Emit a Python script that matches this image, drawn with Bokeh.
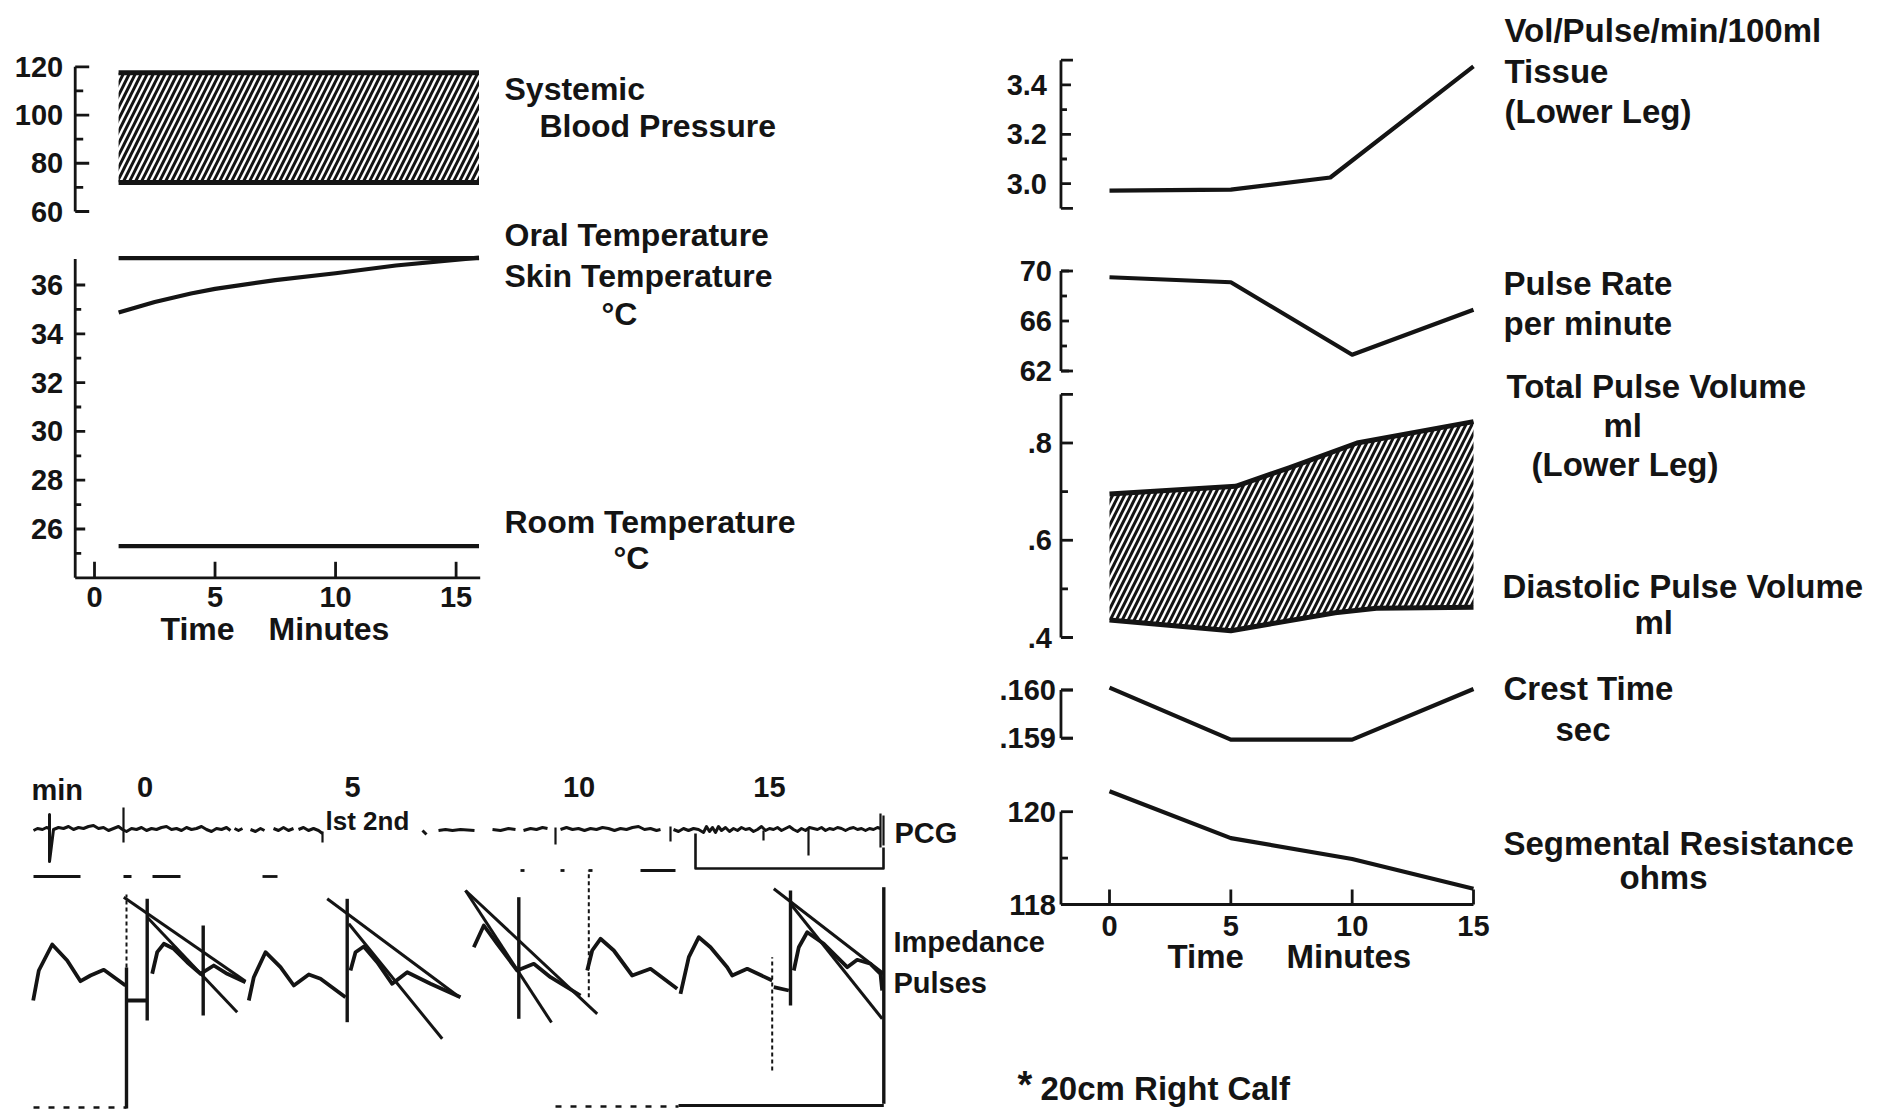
import math
from bokeh.plotting import figure
from bokeh.models import Range1d
from bokeh.core.properties import value
from bokeh.embed import file_html
from bokeh.resources import INLINE

# ---------------- data: left panels (time in minutes) ----------------
bp_time = [1.0, 15.95]
bp_systolic = [117.5, 117.5]
bp_diastolic = [72.0, 72.0]
bp_major = [80, 100]
bp_caps = [60, 120]
bp_labels_v = [60, 80, 100, 120]
bp_labels = ["60", "80", "100", "120"]
bp_minor = [70, 90, 110]

oral_time = [1.0, 15.95]
oral_temp = [37.1, 37.1]
skin_time = [1.0, 2.5, 4.0, 5.0, 7.5, 10.0, 12.5, 15.95]
skin_temp = [34.87, 35.3, 35.65, 35.84, 36.2, 36.48, 36.8, 37.12]
room_time = [1.0, 15.95]
room_temp = [25.3, 25.3]
temp_major = [26, 28, 30, 32, 34, 36]
temp_labels = ["26", "28", "30", "32", "34", "36"]
temp_minor = [25, 27, 29, 31, 33, 35]
minute_ticks = [0, 5, 10, 15]
minute_labels = ["0", "5", "10", "15"]

# ---------------- data: right panels ----------------
r_time = [0, 5, 10, 15]
flow_time = [0, 5, 9.1, 15]
flow = [2.972, 2.976, 3.025, 3.475]
pulse_rate = [69.5, 69.1, 63.3, 66.9]
total_time = [0, 5.2, 7.4, 10.2, 15]
total_vol = [0.695, 0.711, 0.749, 0.800, 0.844]
diast_time = [0, 5, 9.3, 11, 15]
diast_vol = [0.436, 0.414, 0.451, 0.460, 0.462]
crest = [0.16005, 0.15897, 0.15897, 0.16002]
seg_res = [120.44, 119.43, 118.98, 118.34]

flow_major = [3.0, 3.2, 3.4]; flow_labels = ["3.0", "3.2", "3.4"]; flow_minor = [3.1, 3.3]; flow_caps = [2.9, 3.5]
pr_major = [62, 66, 70]; pr_labels = ["62", "66", "70"]; pr_minor = [64, 68]; pr_caps = [62, 70]
pv_major = [0.4, 0.6, 0.8]; pv_labels = [".4", ".6", ".8"]; pv_minor = [0.5, 0.7]; pv_caps = [0.4, 0.9]
ct_major = [0.159, 0.160]; ct_labels = [".159", ".160"]; ct_minor = []; ct_caps = [0.159, 0.160]
sr_major = [118, 120]; sr_labels = ["118", "120"]; sr_minor = [119]; sr_caps = [120]

# ---------------- data: recording traces (chart units) ----------------
pcg_a = [(3.3, 28.0), (3.7, 28.2), (4.2, 28.1), (4.6, 28.3), (4.9, 28.2), (4.9, 29.6), (4.9, 24.9), (5.3, 28.1),
         (5.8, 28.3), (6.3, 28.2), (6.8, 28.4), (7.3, 28.1), (7.8, 28.3), (8.3, 28.2), (8.8, 28.4), (9.3, 28.5),
         (9.8, 28.2), (10.3, 28.3), (10.8, 28.0), (11.3, 28.2), (11.8, 28.4), (12.2, 28.1), (12.6, 27.9),
         (13.1, 28.2), (13.6, 28.1), (14.1, 28.3), (14.6, 28.0), (15.1, 28.2), (15.6, 28.1), (16.1, 28.3),
         (16.6, 28.4), (17.1, 28.1), (17.6, 28.2), (18.1, 28.0), (18.6, 28.3), (19.1, 28.1), (19.6, 28.2),
         (20.1, 28.4), (20.6, 28.1), (21.1, 27.9), (21.6, 28.2), (22.1, 28.1), (22.6, 28.3), (23.0, 28.0)]
pcg_b = [(23.4, 28.2), (23.8, 28.0), (24.2, 28.2)]
pcg_c = [(25.0, 28.1), (25.5, 27.9), (26.0, 28.2), (26.4, 28.0)]
pcg_d = [(27.3, 28.2), (27.8, 28.0), (28.3, 28.3), (28.8, 28.0), (29.3, 28.2)]
pcg_e = [(29.8, 28.1), (30.3, 28.3), (30.8, 28.0), (31.3, 28.2), (31.8, 28.0), (32.2, 27.7)]
pcg_f = [(42.2, 28.0), (42.6, 27.6)]
pcg_g = [(43.8, 28.0), (44.5, 28.1), (45.2, 28.0), (46.0, 28.1), (47.4, 28.0)]
pcg_h = [(49.2, 28.1), (50.0, 28.0), (50.8, 28.2), (51.5, 28.1)]
pcg_i = [(52.3, 28.0), (53.0, 28.2), (53.6, 28.1), (54.2, 28.3), (54.7, 28.2)]
pcg_j = [(56.0, 28.1), (56.6, 28.3), (57.2, 28.1), (57.8, 28.2), (58.4, 28.0), (59.0, 28.2), (59.6, 28.1),
         (60.2, 28.3), (60.8, 28.2), (61.4, 28.0), (62.0, 28.2), (62.6, 28.1), (63.2, 28.3), (63.8, 28.4),
         (64.4, 28.1), (65.0, 28.2), (65.6, 28.0), (66.0, 28.1)]
pcg_k = [(67.3, 28.1), (67.8, 27.9), (68.3, 28.2), (68.8, 28.0), (69.3, 28.2), (69.8, 28.1), (70.3, 27.8),
         (70.6, 28.4), (70.9, 27.9), (71.2, 28.3), (71.5, 27.8), (71.8, 28.4), (72.1, 28.0), (72.5, 28.3),
         (72.9, 27.9), (73.3, 28.2), (73.7, 28.0), (74.1, 28.3), (74.5, 28.1), (74.9, 28.2), (75.3, 27.9),
         (75.7, 28.1), (76.1, 28.4), (76.5, 28.0), (76.9, 28.2), (77.3, 28.1), (77.7, 28.3), (78.1, 28.0),
         (78.5, 28.2), (78.9, 28.4), (79.3, 28.1), (79.7, 27.9), (80.1, 28.2), (80.5, 28.0), (80.9, 28.3),
         (81.3, 28.2), (81.7, 28.1), (82.1, 28.3), (82.5, 28.0), (82.9, 28.2), (83.3, 28.1), (83.7, 28.3),
         (84.1, 28.2), (84.5, 28.0), (84.9, 28.2), (85.3, 28.3), (85.7, 28.1), (86.1, 28.2), (86.5, 28.0),
         (86.9, 28.2), (87.3, 28.1), (87.7, 28.3), (88.0, 28.2)]
pcg_marks_x = [12.3, 32.2, 55.5, 67.0, 76.3, 80.8, 88.0, 88.3]
pcg_marks_top = [30.3, 27.9, 28.3, 28.4, 28.0, 28.2, 29.7, 29.5]
pcg_marks_bot = [26.8, 26.8, 26.6, 26.9, 27.0, 25.5, 26.3, 26.5]
pcg_bracket = [(69.5, 27.7), (69.5, 24.2), (88.3, 24.2), (88.3, 26.3)]
time_dash_x0 = [3.3, 12.3, 15.2, 26.2, 52.0, 56.0, 58.8, 64.0]
time_dash_x1 = [8.0, 13.1, 18.0, 27.7, 52.4, 56.4, 59.2, 67.5]
time_dash_y = [23.4, 23.4, 23.4, 23.4, 24.0, 24.0, 24.0, 24.0]
pcg_minute_pos = [14.46, 35.2, 57.86, 76.9]
pcg_minute_labels = ["0", "5", "10", "15"]

imp_1a = [(3.27, 11.0), (3.83, 14.0), (5.17, 16.6), (6.67, 15.0), (8.0, 12.93), (9.0, 13.5), (10.33, 14.07), (12.5, 12.5)]
imp_1b = [(12.67, 11.0), (14.67, 11.0)]
imp_1c = [(15.17, 13.67), (15.67, 15.83), (16.33, 16.67), (17.33, 16.17), (18.67, 14.83), (20.0, 13.67),
          (21.33, 14.5), (22.67, 13.67), (24.5, 12.83)]
imp_2a = [(24.83, 11.0), (25.33, 13.33), (26.5, 15.83), (28.0, 14.33), (29.33, 12.5), (30.83, 13.6), (32.0, 13.17), (34.5, 11.33)]
imp_2b = [(35.0, 14.0), (35.5, 15.83), (36.33, 16.4), (37.67, 14.83), (39.17, 12.67), (40.67, 13.83), (43.0, 12.67), (46.0, 11.33)]
imp_3a = [(47.33, 16.33), (48.33, 18.5), (49.67, 16.67), (51.67, 14.0), (53.33, 14.67), (55.0, 13.33), (58.0, 11.5)]
imp_4a = [(58.67, 14.0), (59.17, 16.0), (60.0, 17.17), (61.33, 16.0), (63.17, 13.5), (65.0, 14.17), (67.67, 12.17)]
imp_5a = [(68.0, 11.67), (68.83, 15.33), (69.83, 17.33), (71.0, 16.33), (72.67, 14.33), (73.17, 13.5), (74.67, 14.17), (77.17, 13.0)]
imp_5b = [(77.33, 12.33), (78.83, 12.0)]
imp_6a = [(79.33, 14.0), (79.83, 16.33), (80.67, 17.83), (82.33, 16.67), (84.67, 14.33), (85.67, 15.07), (87.0, 14.67), (88.0, 13.67), (88.17, 12.0)]
tangent_x0 = [12.33, 14.67, 32.67, 34.83, 46.5, 46.5, 77.33, 79.0]
tangent_y0 = [21.33, 19.33, 21.17, 18.67, 22.0, 22.0, 22.17, 20.67]
tangent_x1 = [24.5, 23.67, 45.8, 44.17, 59.67, 55.1, 88.33, 88.17]
tangent_y1 = [12.93, 9.83, 11.4, 7.17, 9.67, 8.8, 13.67, 9.17]
vert_x = [12.6, 14.67, 20.27, 34.67, 51.83, 79.0, 88.33]
vert_bot = [0.2, 9.0, 9.5, 8.83, 9.17, 10.5, 0.67]
vert_top = [14.3, 21.17, 18.5, 21.17, 21.33, 22.0, 22.33]
dashed_vert_x = [12.6, 58.83, 77.17]
dashed_vert_bot = [14.3, 11.33, 4.0]
dashed_vert_top = [21.6, 24.0, 15.33]

# ---------------- texts ----------------
left_texts = ["Systemic", "Blood Pressure", "Oral Temperature", "Skin Temperature", "°C", "Room Temperature", "°C"]
right_texts = ["Vol/Pulse/min/100ml", "Tissue", "(Lower Leg)", "Pulse Rate", "per minute", "Total Pulse Volume",
               "ml", "(Lower Leg)", "Diastolic Pulse Volume", "ml", "Crest Time", "sec", "Segmental Resistance", "ohms"]
axis_words = ["Time", "Minutes"]

# ---------------- layout / style ----------------
INK = "#141414"
FONT = value("Liberation Sans")
W, H = 1890, 1117
OX, OY = 0, 0

left_text_x = [504, 539, 504, 504, 601, 504, 613]
left_text_y = [88, 125, 234, 275, 313, 521, 557]
right_text_x = [1504, 1504, 1504, 1503, 1503, 1506, 1603, 1531, 1502, 1634, 1503, 1555, 1503, 1619]
right_text_y = [30, 71, 111, 283, 323, 386, 425, 464, 586, 622, 688, 729, 843, 877]


def xr(v1, X1, v2, X2):
    s = (v2 - v1) / (X2 - X1)
    return Range1d(start=v1 + (OX - X1) * s, end=v1 + (OX + W - X1) * s)


def yr(v1, Y1, v2, Y2):
    s = (v2 - v1) / (Y2 - Y1)
    return Range1d(start=v1 + (OY + H - Y1) * s, end=v1 + (OY - Y1) * s)


p = figure(width=W, height=H, x_range=Range1d(OX, OX + W), y_range=Range1d(OY + H, OY),
           output_backend="svg", toolbar_location=None, x_axis_location=None, y_axis_location=None,
           min_border=0, background_fill_color="white", border_fill_color="white", outline_line_color=None)
p.grid.visible = False

p.extra_x_ranges = {"lx": xr(0, 94, 15, 455.6), "rx": xr(0, 1109, 15, 1473), "tx": xr(0, 0, 100, 1000)}
p.extra_y_ranges = {"bp": yr(120, 66.3, 60, 211), "tp": yr(36, 284.5, 26, 528.5),
                    "fl": yr(3.4, 84.4, 3.0, 183.2), "pr": yr(70, 270.5, 62, 370.5),
                    "pv": yr(0.8, 442.5, 0.4, 637), "ct": yr(0.160, 689.5, 0.159, 737.7),
                    "sr": yr(120, 811.2, 118, 904), "ty": yr(0, 1110, 30, 810)}


def txt(xs, ys, texts, size, align="left", xn="default", yn="default", xo=0, yo=0, baseline="middle"):
    p.text(x=xs, y=ys, text=texts, x_range_name=xn, y_range_name=yn, x_offset=xo, y_offset=yo,
           text_font=FONT, text_font_style="bold", text_font_size=size, text_color=INK,
           text_align=align, text_baseline=baseline)


def vaxis(xn, yn, ax, lo, hi, labv, labs, major, minor, caps, tl, ml, cl, lab_off, lw=2.8):
    p.segment(x0=[ax], y0=[lo], x1=[ax], y1=[hi], x_range_name=xn, y_range_name=yn, line_width=lw, line_color=INK)
    for vals, ln in ((major, tl), (minor, ml), (caps, cl)):
        if vals:
            p.ray(x=[ax] * len(vals), y=vals, length=ln, length_units="screen", angle=0,
                  x_range_name=xn, y_range_name=yn, line_width=lw, line_color=INK)
    txt([ax] * len(labv), labv, labs, "29px", align="right", xn=xn, yn=yn, xo=-lab_off)


def haxis(xn, yn, y0, xa, xb, ticks, tlen, lw=2.8):
    p.segment(x0=[xa], y0=[y0], x1=[xb], y1=[y0], x_range_name=xn, y_range_name=yn, line_width=lw, line_color=INK)
    p.ray(x=ticks, y=[y0] * len(ticks), length=tlen, length_units="screen", angle=math.pi / 2,
          x_range_name=xn, y_range_name=yn, line_width=lw, line_color=INK)


def line(xn, yn, xs, ys, lw=4.2):
    p.line(x=xs, y=ys, x_range_name=xn, y_range_name=yn, line_width=lw, line_color=INK, line_join="round")


HATCH = dict(fill_color="white", fill_alpha=0, hatch_pattern="/", hatch_color=INK, hatch_weight=3, hatch_scale=12)

# ---- Systemic blood pressure ----
p.varea(x=bp_time, y1=bp_diastolic, y2=bp_systolic, x_range_name="lx", y_range_name="bp", **HATCH)
line("lx", "bp", bp_time, bp_systolic, 5)
line("lx", "bp", bp_time, bp_diastolic, 5)
vaxis("lx", "bp", -0.8, 60, 120, bp_labels_v, bp_labels, bp_major, bp_minor, bp_caps, 14, 8, 14, 12)

# ---- temperatures ----
line("lx", "tp", oral_time, oral_temp)
line("lx", "tp", skin_time, skin_temp)
line("lx", "tp", room_time, room_temp)
vaxis("lx", "tp", -0.8, 24.0, 37.07, temp_major, temp_labels, temp_major, temp_minor, [], 10, 6, 0, 12)
haxis("lx", "tp", 24.0, -0.8, 16.0, minute_ticks, 16)
txt(minute_ticks, [24.0] * 4, minute_labels, "29px", align="center", xn="lx", yn="tp", yo=19)
txt([160, 268], [628, 628], axis_words, "32px")
txt(left_text_x, left_text_y, left_texts, "32px")

# ---- right panels ----
line("rx", "fl", flow_time, flow)
vaxis("rx", "fl", -2.0, 2.9, 3.5, flow_major, flow_labels, flow_major, flow_minor, flow_caps, 10, 6, 12, 14)

line("rx", "pr", r_time, pulse_rate)
vaxis("rx", "pr", -2.0, 62, 70, pr_major, pr_labels, pr_major, pr_minor, pr_caps, 8, 6, 12, 9)

p.patch(x=total_time + diast_time[::-1], y=total_vol + diast_vol[::-1], x_range_name="rx", y_range_name="pv",
        line_color=None, **HATCH)
line("rx", "pv", total_time, total_vol, 5)
line("rx", "pv", diast_time, diast_vol, 5)
vaxis("rx", "pv", -2.0, 0.4, 0.9, pv_major, pv_labels, pv_major, pv_minor, pv_caps, 12, 7, 12, 9)

line("rx", "ct", r_time, crest)
vaxis("rx", "ct", -2.0, 0.159, 0.160, ct_major, ct_labels, ct_major, ct_minor, ct_caps, 12, 6, 12, 5)

line("rx", "sr", r_time, seg_res)
vaxis("rx", "sr", -2.0, 118, 120, sr_major, sr_labels, [], sr_minor, sr_caps, 12, 7, 12, 5)
haxis("rx", "sr", 118, -2.0, 15.0, r_time, 15)
txt(r_time, [118] * 4, minute_labels, "29px", align="center", xn="rx", yn="sr", yo=21)
txt([1167, 1286], [956, 956], axis_words, "33px")
txt(right_text_x, right_text_y, right_texts, "33px")
txt([1017], [1084], ["*"], "38px")
txt([1040], [1088], ["20cm Right Calf"], "33px")

# ---- PCG and impedance recording ----
for seg in (pcg_a, pcg_b, pcg_c, pcg_d, pcg_e, pcg_f, pcg_g, pcg_h, pcg_i, pcg_j, pcg_k):
    line("tx", "ty", [q[0] for q in seg], [q[1] for q in seg], 3)
p.segment(x0=pcg_marks_x, y0=pcg_marks_bot, x1=pcg_marks_x, y1=pcg_marks_top, x_range_name="tx",
          y_range_name="ty", line_width=2.2, line_color=INK)
line("tx", "ty", [q[0] for q in pcg_bracket], [q[1] for q in pcg_bracket], 2.6)
p.segment(x0=time_dash_x0, y0=time_dash_y, x1=time_dash_x1, y1=time_dash_y, x_range_name="tx",
          y_range_name="ty", line_width=2.8, line_color=INK)
for seg in (imp_1a, imp_1b, imp_1c, imp_2a, imp_2b, imp_3a, imp_4a, imp_5a, imp_5b, imp_6a):
    line("tx", "ty", [q[0] for q in seg], [q[1] for q in seg], 3.8)
p.segment(x0=tangent_x0, y0=tangent_y0, x1=tangent_x1, y1=tangent_y1, x_range_name="tx", y_range_name="ty",
          line_width=3, line_color=INK)
p.segment(x0=vert_x, y0=vert_bot, x1=vert_x, y1=vert_top, x_range_name="tx", y_range_name="ty",
          line_width=3.4, line_color=INK)
p.segment(x0=dashed_vert_x, y0=dashed_vert_bot, x1=dashed_vert_x, y1=dashed_vert_top, x_range_name="tx",
          y_range_name="ty", line_width=2, line_color=INK, line_dash="4 3")
p.segment(x0=[67.8], y0=[0.5], x1=[88.33], y1=[0.5], x_range_name="tx", y_range_name="ty",
          line_width=3, line_color=INK)
p.segment(x0=[3.3, 55.5], y0=[0.3, 0.4], x1=[12.6, 67.8], y1=[0.3, 0.4], x_range_name="tx", y_range_name="ty",
          line_width=2.6, line_color=INK, line_dash="6 9")

txt(pcg_minute_pos, [32.4] * 4, pcg_minute_labels, "29px", align="center", xn="tx", yn="ty")
txt([5.67], [32.1], ["min"], "29px", align="center", xn="tx", yn="ty")
txt([325], [820], ["lst 2nd"], "26px")
txt([894], [832], ["PCG"], "29px")
txt([893, 893], [941, 982], ["Impedance", "Pulses"], "29px")

open("out.html", "w").write(file_html(p, INLINE))
